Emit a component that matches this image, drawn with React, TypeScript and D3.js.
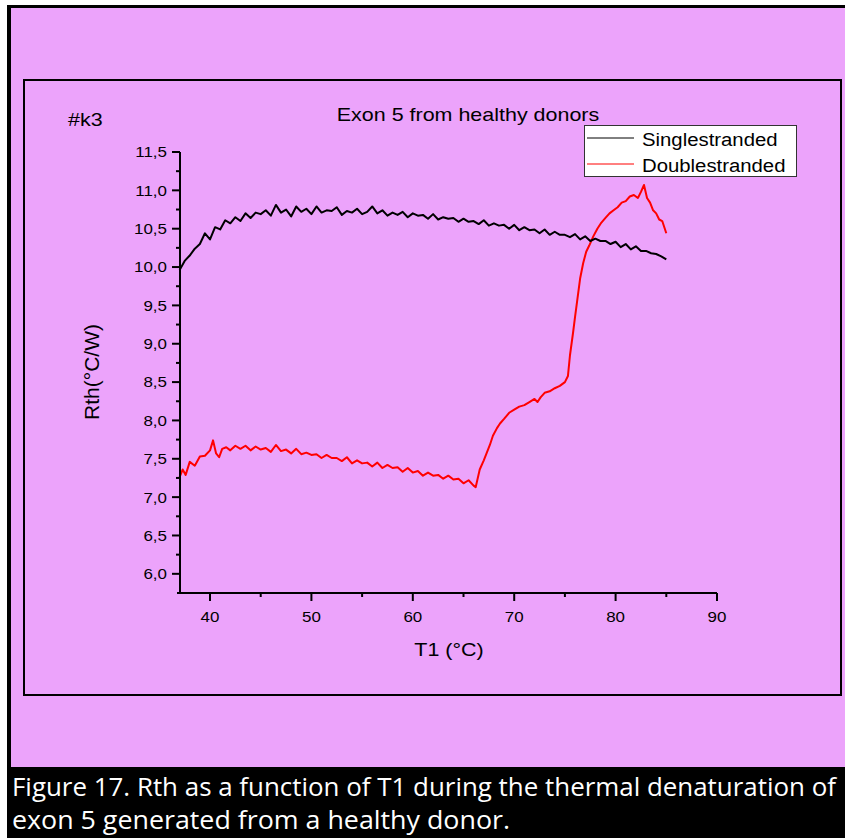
import React from "react";
import * as d3 from "d3";

const singleT = [37.0,37.5,38.0,38.5,39.0,39.5,40.0,40.5,41.0,41.5,42.0,42.5,43.0,43.5,44.0,44.5,45.0,45.5,46.0,46.5,47.0,47.5,48.0,48.5,49.0,49.5,50.0,50.5,51.0,51.5,52.0,52.5,53.0,53.5,54.0,54.5,55.0,55.5,56.0,56.5,57.0,57.5,58.0,58.5,59.0,59.5,60.0,60.5,61.0,61.5,62.0,62.5,63.0,63.5,64.0,64.5,65.0,65.5,66.0,66.5,67.0,67.5,68.0,68.5,69.0,69.5,70.0,70.5,71.0,71.5,72.0,72.5,73.0,73.5,74.0,74.5,75.0,75.5,76.0,76.5,77.0,77.5,78.0,78.5,79.0,79.5,80.0,80.5,81.0,81.5,82.0,82.5,83.0,83.5,84.0,84.5,85.0];
const singleRth = [9.96,10.08,10.15,10.24,10.30,10.44,10.36,10.52,10.49,10.61,10.57,10.65,10.60,10.70,10.64,10.71,10.69,10.74,10.67,10.81,10.71,10.75,10.66,10.79,10.72,10.76,10.69,10.79,10.71,10.74,10.73,10.78,10.68,10.73,10.71,10.76,10.69,10.72,10.79,10.70,10.74,10.67,10.71,10.68,10.72,10.65,10.70,10.67,10.68,10.63,10.69,10.62,10.65,10.63,10.64,10.59,10.63,10.59,10.60,10.56,10.61,10.54,10.57,10.54,10.55,10.50,10.55,10.48,10.52,10.48,10.49,10.44,10.49,10.42,10.46,10.42,10.42,10.39,10.43,10.36,10.40,10.34,10.37,10.34,10.34,10.30,10.33,10.26,10.30,10.23,10.27,10.21,10.21,10.18,10.17,10.14,10.10];

const doubleT = [37.0,37.3,37.6,38.0,38.5,39.0,39.5,40.0,40.3,40.6,40.9,41.2,41.6,42.0,42.5,43.0,43.5,44.0,44.5,45.0,45.5,46.0,46.5,47.0,47.5,48.0,48.5,49.0,49.5,50.0,50.5,51.0,51.5,52.0,52.5,53.0,53.5,54.0,54.5,55.0,55.5,56.0,56.5,57.0,57.5,58.0,58.5,59.0,59.5,60.0,60.5,61.0,61.5,62.0,62.5,63.0,63.5,64.0,64.5,65.0,65.5,66.0,66.2,66.6,67.0,67.3,67.6,67.9,68.3,68.6,69.0,69.5,70.0,70.5,71.0,71.5,72.0,72.3,72.6,73.0,73.5,74.0,74.5,75.0,75.3,75.5,75.8,76.0,76.2,76.5,76.8,77.1,77.4,77.8,78.2,78.6,79.0,79.4,79.8,80.2,80.6,81.0,81.4,81.8,82.2,82.5,82.8,83.1,83.4,83.7,84.0,84.3,84.6,85.0];
const doubleRth = [7.26,7.36,7.29,7.46,7.41,7.53,7.54,7.61,7.74,7.57,7.52,7.63,7.65,7.61,7.67,7.63,7.67,7.61,7.66,7.62,7.64,7.59,7.68,7.60,7.62,7.57,7.63,7.56,7.58,7.55,7.56,7.51,7.55,7.51,7.51,7.47,7.52,7.44,7.48,7.44,7.45,7.40,7.45,7.38,7.42,7.38,7.39,7.33,7.38,7.32,7.34,7.28,7.32,7.28,7.29,7.24,7.28,7.23,7.24,7.18,7.22,7.15,7.13,7.36,7.48,7.58,7.68,7.80,7.90,7.96,8.02,8.10,8.14,8.18,8.20,8.24,8.28,8.24,8.30,8.36,8.38,8.42,8.45,8.50,8.58,8.85,9.14,9.35,9.55,9.85,10.05,10.20,10.28,10.40,10.50,10.58,10.64,10.70,10.74,10.78,10.84,10.86,10.92,10.94,10.90,10.98,11.07,10.90,10.84,10.74,10.70,10.62,10.60,10.44];

const yMajorTicks = [6.0,6.5,7.0,7.5,8.0,8.5,9.0,9.5,10.0,10.5,11.0,11.5];
const yMinorTicks = [6.25,6.75,7.25,7.75,8.25,8.75,9.25,9.75,10.25,10.75,11.25];
const xMajorTicks = [40,50,60,70,80,90];
const xMinorTicks = [45,55,65,75,85];

const seriesNames = ["Singlestranded", "Doublestranded"];
const seriesColors = ["#000000", "#ff0000"];

const PINK = "#eca3fb";
const SX = 1.13;
const FONT = "'Liberation Sans', Arial, sans-serif";

function Txt({ x, y, size, anchor = "start", children, rotate = 0, sx = SX, fill = "#000" }: any) {
  const tr = rotate
    ? `translate(${x},${y}) rotate(${rotate})`
    : `translate(${x},${y}) scale(${sx},1)`;
  return (
    <text transform={tr} fontFamily={FONT} fontSize={size} textAnchor={anchor} fill={fill}>
      {children}
    </text>
  );
}

export default function App() {
  const x = d3.scaleLinear().domain([37.04, 90]).range([180, 717]);
  const y = d3.scaleLinear().domain([5.75, 11.5]).range([593, 152]);
  const line = d3
    .line<[number, number]>()
    .x((d) => x(d[0]))
    .y((d) => y(d[1]));
  const singleData: [number, number][] = singleT.map((t, i) => [t, singleRth[i]]);
  const doubleData: [number, number][] = doubleT.map((t, i) => [t, doubleRth[i]]);
  const fmt = (v: number) => v.toFixed(1).replace(".", ",");

  return (
    <svg
      width={845}
      height={838}
      style={{ position: "absolute", left: 0, top: 0, background: "#fff" }}
    >
      {/* outer frame */}
      <rect x={7} y={5} width={838} height={833} fill="#000" />
      <rect x={11} y={8} width={834} height={759} fill={PINK} />
      {/* inner frame */}
      <rect x={24} y={80} width={817} height={615} fill="none" stroke="#000" strokeWidth={2} />

      {/* header texts */}
      <Txt x={68} y={126} size={19}>#k3</Txt>
      <Txt x={468} y={121} size={19} anchor="middle">Exon 5 from healthy donors</Txt>

      {/* data lines */}
      <path d={line(doubleData) || ""} fill="none" stroke={seriesColors[1]} strokeWidth={2} strokeLinejoin="round" />
      <path d={line(singleData) || ""} fill="none" stroke={seriesColors[0]} strokeWidth={2} strokeLinejoin="round" />

      {/* axes */}
      <line x1={180} x2={180} y1={y(11.5)} y2={593} stroke="#000" strokeWidth={2} />
      <line x1={177} x2={x(90)} y1={593} y2={593} stroke="#000" strokeWidth={2} />
      {yMajorTicks.map((v) => (
        <g key={"ym" + v}>
          <line x1={172} x2={180} y1={y(v)} y2={y(v)} stroke="#000" strokeWidth={2} />
          <Txt x={167} y={y(v) + 5.4} size={15} anchor="end">{fmt(v)}</Txt>
        </g>
      ))}
      {yMinorTicks.map((v) => (
        <line key={"yn" + v} x1={176} x2={180} y1={y(v)} y2={y(v)} stroke="#000" strokeWidth={2} />
      ))}
      {xMajorTicks.map((v) => (
        <g key={"xm" + v}>
          <line x1={x(v)} x2={x(v)} y1={593} y2={601} stroke="#000" strokeWidth={2} />
          <Txt x={x(v)} y={622} size={15} anchor="middle">{String(v)}</Txt>
        </g>
      ))}
      {xMinorTicks.map((v) => (
        <line key={"xn" + v} x1={x(v)} x2={x(v)} y1={593} y2={597} stroke="#000" strokeWidth={2} />
      ))}

      {/* axis titles */}
      <Txt x={449} y={656} size={19} anchor="middle">T1 (°C)</Txt>
      <Txt x={99} y={372} size={21} anchor="middle" rotate={-90}>Rth(°C/W)</Txt>

      {/* legend */}
      <rect x={584.5} y={125.5} width={212} height={51} fill="#fff" stroke="#333" strokeWidth={1} />
      {seriesNames.map((name, i) => (
        <g key={name}>
          <line x1={587} x2={634} y1={138 + i * 26} y2={138 + i * 26} stroke={seriesColors[i]} strokeWidth={1} />
          <Txt x={642} y={146 + i * 26} size={18}>{name}</Txt>
        </g>
      ))}

      {/* caption */}
      <text x={12} y={796} fill="#fff" fontFamily="'Open Sans', sans-serif" fontSize={25} textLength={824} lengthAdjust="spacingAndGlyphs">
        Figure 17. Rth as a function of T1 during the thermal denaturation of
      </text>
      <text x={12} y={829} fill="#fff" fontFamily="'Open Sans', sans-serif" fontSize={25} textLength={498} lengthAdjust="spacingAndGlyphs">
        exon 5 generated from a healthy donor.
      </text>
    </svg>
  );
}
